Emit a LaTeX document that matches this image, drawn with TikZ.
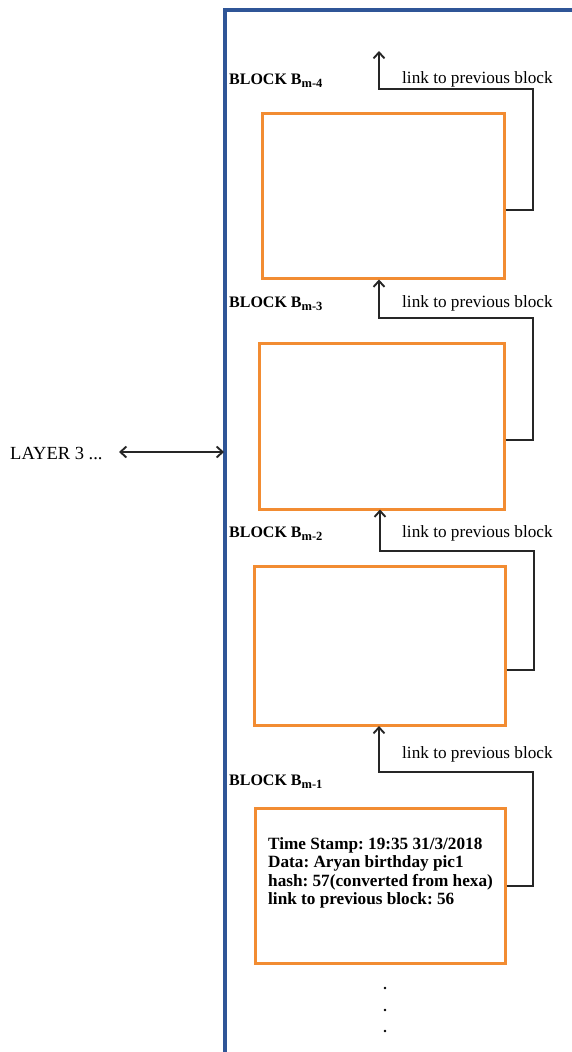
\documentclass[tikz,border=0pt]{standalone}
\usepackage{fontspec}
\setmainfont{Liberation Serif}
\usetikzlibrary{arrows.meta}
\definecolor{frameblue}{RGB}{47,85,151}
\definecolor{blockorange}{RGB}{242,140,50}
\newcommand{\blocksub}[1]{\raisebox{-3pt}{\fontsize{12.5}{13}\selectfont #1}}
\tikzset{
  barb/.tip={Straight Barb[length=6pt,width=11pt,line width=1.9pt]},
  blockbox/.style={draw=blockorange, line width=3pt, inner sep=0pt},
  linkline/.style={draw=black!85, line width=1.9pt, -{barb}},
  blocklabel/.style={font=\fontsize{16}{18}\selectfont\bfseries, anchor=base west, inner sep=0pt},
  linklabel/.style={font=\fontsize{17.2}{19}\selectfont, anchor=base west, inner sep=0pt},
}
\begin{document}
\frenchspacing
\begin{tikzpicture}[x=1pt,y=-1pt]
\useasboundingbox (0,0) rectangle (571,1052);
% outer frame of the layer
\draw[frameblue, line width=3.1pt] (225,1060) -- (225,10) -- (580,10);

% blocks
\node[blockbox, minimum width=242pt, minimum height=165pt] (b4) at (383,195.5) {};
\node[blockbox, minimum width=245pt, minimum height=166pt] (b3) at (381.5,426) {};
\node[blockbox, minimum width=251pt, minimum height=159pt] (b2) at (379.5,646) {};
\node[blockbox, minimum width=250pt, minimum height=155pt] (b1) at (380,885.5) {};

% block data
\node[font=\fontsize{17.2}{18.5}\selectfont\bfseries, align=left, anchor=north west, inner sep=0pt] (data) at (268,837)
  {Time Stamp: 19:35 31/3/2018\\Data: Aryan birthday pic1\\hash: 57(converted from hexa)\\link to previous block: 56};

% block labels
\node[blocklabel] (l4) at (229,84) {BLOCK B\blocksub{m-4}};
\node[blocklabel] (l3) at (229,307) {BLOCK B\blocksub{m-3}};
\node[blocklabel] (l2) at (229,537) {BLOCK B\blocksub{m-2}};
\node[blocklabel] (l1) at (229,785) {BLOCK B\blocksub{m-1}};

% link labels
\node[linklabel] (k4) at (402,83) {link to previous block};
\node[linklabel] (k3) at (402,307) {link to previous block};
\node[linklabel] (k2) at (402,537) {link to previous block};
\node[linklabel] (k1) at (402,758) {link to previous block};

% links between blocks
\coordinate (top) at (379,51);
\draw[linkline] (b4.east |- 0,210) -- (533,210) -- (533,89) -- (379,89) -- (top);
\draw[linkline] (b3.east |- 0,440) -- (533,440) -- (533,318) -- (379,318) -- (379,279.5);
\draw[linkline] (b2.east |- 0,670) -- (534,670) -- (534,551) -- (380,551) -- (380,509.5);
\draw[linkline] (b1.east |- 0,886) -- (533,886) -- (533,772) -- (379,772) -- (379,726);

% connection to the next layer
\node[font=\fontsize{18.5}{20}\selectfont, anchor=base west, inner sep=0pt] (layer) at (10,459) {LAYER 3 ...};
\coordinate (frameleft) at (224,452);
\draw[draw=black!85, line width=1.9pt, {barb}-{barb}] (119,452) -- (frameleft);

% continuation dots
\foreach \y in {988,1010,1031}
  \fill (385,\y) circle (1.3pt);
\end{tikzpicture}
\end{document}
